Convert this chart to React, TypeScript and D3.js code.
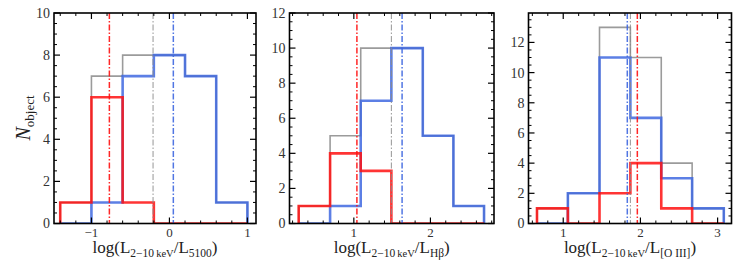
import * as d3 from 'd3';

// bin edges and counts
const P1_EDGES = [-1.4, -1.0, -0.6, -0.2, 0.2, 0.6, 1.0];
const P1_ALL = [1, 7, 8, 8, 7, 1];
const P1_BLUE = [0, 1, 7, 8, 7, 1];
const P1_RED = [1, 6, 1, 0, 0, 0];
const P1_MEDIANS = [-0.21, 0.05, -0.77]; // all, blue, red

const P2_EDGES = [0.28, 0.69, 1.09, 1.49, 1.9, 2.3, 2.7];
const P2_ALL = [1, 5, 10, 10, 5, 1];
const P2_BLUE = [0, 1, 7, 10, 5, 1];
const P2_RED = [1, 4, 3, 0, 0, 0];
const P2_MEDIANS = [1.49, 1.63, 1.04];

const P3_EDGES = [0.66, 1.06, 1.47, 1.87, 2.27, 2.67, 3.08];
const P3_ALL = [1, 2, 13, 11, 4, 1];
const P3_BLUE = [0, 2, 11, 7, 3, 1];
const P3_RED = [1, 0, 2, 4, 1, 0];
const P3_MEDIANS = [1.87, 1.83, 1.96];

const P1_XTICKS = [-1, 0, 1];
const P2_XTICKS = [1, 2];
const P3_XTICKS = [1, 2, 3];

const FONT = '"Liberation Serif", "DejaVu Serif", serif';
const RED = '#ff1010';
const BLUE = '#3f68e0';
const GRAY = '#8a8a8a';

interface PanelProps {
  id: string;
  left: number;
  right: number;
  xDomain: [number, number];
  yMax: number;
  edges: number[];
  all: number[];
  blue: number[];
  red: number[];
  medians: number[];
  xTicks: number[];
  label: string;
}

const TOP = 13;
const BOTTOM = 223.5;

function stepPath(edges: number[], counts: number[], x: d3.ScaleLinear<number, number>, y: d3.ScaleLinear<number, number>) {
  const pts: [number, number][] = [[edges[0], 0]];
  counts.forEach((c, i) => {
    pts.push([edges[i], c]);
    pts.push([edges[i + 1], c]);
  });
  pts.push([edges[edges.length - 1], 0]);
  return d3.line<[number, number]>().x((d) => x(d[0])).y((d) => y(d[1]))(pts) ?? '';
}

function Panel({ id, left, right, xDomain, yMax, edges, all, blue, red, medians, xTicks, label }: PanelProps) {
  const x = d3.scaleLinear().domain(xDomain).range([left, right]);
  const y = d3.scaleLinear().domain([0, yMax]).range([BOTTOM, TOP]);
  const yTicks = d3.range(0, yMax + 0.001, 2);
  const yMinor = d3.range(0, yMax + 0.001, 0.5).filter((v) => v % 2 !== 0);
  const xMinor = d3
    .range(Math.ceil(xDomain[0] / 0.2) * 0.2, xDomain[1], 0.2)
    .filter((v) => Math.abs(v - Math.round(v)) > 0.01);
  const medColors = [GRAY, BLUE, RED];
  const cx = (left + right) / 2;

  return (
    <g>
      <clipPath id={id}>
        <rect x={left} y={TOP} width={right - left} height={BOTTOM - TOP} />
      </clipPath>
      <g clipPath={`url(#${id})`}>
        <path d={stepPath(edges, all, x, y)} fill="none" stroke={GRAY} strokeWidth={1.6} opacity={0.85} />
        <path d={stepPath(edges, blue, x, y)} fill="none" stroke={BLUE} strokeWidth={2.6} opacity={0.85} />
        <path d={stepPath(edges, red, x, y)} fill="none" stroke={RED} strokeWidth={2.6} opacity={0.85} />
        {medians.map((m, i) => (
          <line
            key={i}
            x1={x(m)}
            x2={x(m)}
            y1={TOP}
            y2={BOTTOM}
            stroke={medColors[i]}
            strokeWidth={i === 0 ? 1 : 1.5}
            strokeDasharray="6,2,1.5,2"
            opacity={0.9}
          />
        ))}
      </g>
      <rect x={left} y={TOP} width={right - left} height={BOTTOM - TOP} fill="none" stroke="#000" strokeWidth={1.6} />
      {yTicks.map((t) => (
        <g key={`y${t}`}>
          <line x1={left} x2={left + 6} y1={y(t)} y2={y(t)} stroke="#000" strokeWidth={1.2} />
          <line x1={right} x2={right - 6} y1={y(t)} y2={y(t)} stroke="#000" strokeWidth={1.2} />
          <text x={left - 4} y={y(t)} dy="0.35em" textAnchor="end" fontSize={14} fill="#333" fontFamily={FONT}>
            {t}
          </text>
        </g>
      ))}
      {yMinor.map((t) => (
        <g key={`ym${t}`}>
          <line x1={left} x2={left + 3} y1={y(t)} y2={y(t)} stroke="#000" strokeWidth={1} />
          <line x1={right} x2={right - 3} y1={y(t)} y2={y(t)} stroke="#000" strokeWidth={1} />
        </g>
      ))}
      {xTicks.map((t) => (
        <g key={`x${t}`}>
          <line x1={x(t)} x2={x(t)} y1={BOTTOM} y2={BOTTOM - 6} stroke="#000" strokeWidth={1.2} />
          <line x1={x(t)} x2={x(t)} y1={TOP} y2={TOP + 6} stroke="#000" strokeWidth={1.2} />
          <text x={x(t)} y={BOTTOM + 13} textAnchor="middle" fontSize={13} fill="#333" fontFamily={FONT}>
            {t < 0 ? `\u2212${Math.abs(t)}` : t}
          </text>
        </g>
      ))}
      {xMinor.map((t) => (
        <g key={`xm${t.toFixed(2)}`}>
          <line x1={x(t)} x2={x(t)} y1={BOTTOM} y2={BOTTOM - 3} stroke="#000" strokeWidth={1} />
          <line x1={x(t)} x2={x(t)} y1={TOP} y2={TOP + 3} stroke="#000" strokeWidth={1} />
        </g>
      ))}
      <text x={cx} y={253} textAnchor="middle" fontSize={17} fill="#222" fontFamily={FONT}>
        log(L
        <tspan fontSize={11.5} dy={3.5}>2{'\u2212'}10</tspan>
        <tspan fontSize={10.5}>{'\u2009'}keV</tspan>
        <tspan dy={-3.5}>/L</tspan>
        <tspan fontSize={11.5} dy={3.5}>{label}</tspan>
        <tspan dy={-3.5}>)</tspan>
      </text>
    </g>
  );
}

export default function App() {
  return (
    <svg width={747} height={264} style={{ position: 'absolute', left: 0, top: 0, background: '#fff' }}>
      <Panel
        id="c1"
        left={54}
        right={256}
        xDomain={[-1.48, 1.11]}
        yMax={10}
        edges={P1_EDGES}
        all={P1_ALL}
        blue={P1_BLUE}
        red={P1_RED}
        medians={P1_MEDIANS}
        xTicks={P1_XTICKS}
        label="5100"
      />
      <Panel
        id="c2"
        left={289.5}
        right={494}
        xDomain={[0.16, 2.83]}
        yMax={12}
        edges={P2_EDGES}
        all={P2_ALL}
        blue={P2_BLUE}
        red={P2_RED}
        medians={P2_MEDIANS}
        xTicks={P2_XTICKS}
        label={'H\u03b2'}
      />
      <Panel
        id="c3"
        left={528.5}
        right={731.5}
        xDomain={[0.55, 3.18]}
        yMax={13.95}
        edges={P3_EDGES}
        all={P3_ALL}
        blue={P3_BLUE}
        red={P3_RED}
        medians={P3_MEDIANS}
        xTicks={P3_XTICKS}
        label="[O III]"
      />
      <text
        transform="translate(30,118) rotate(-90)"
        textAnchor="middle"
        fontSize={20}
        fill="#222"
        fontFamily={FONT}
      >
        <tspan fontStyle="italic">N</tspan>
        <tspan fontSize={13} dy={4}>object</tspan>
      </text>
    </svg>
  );
}
